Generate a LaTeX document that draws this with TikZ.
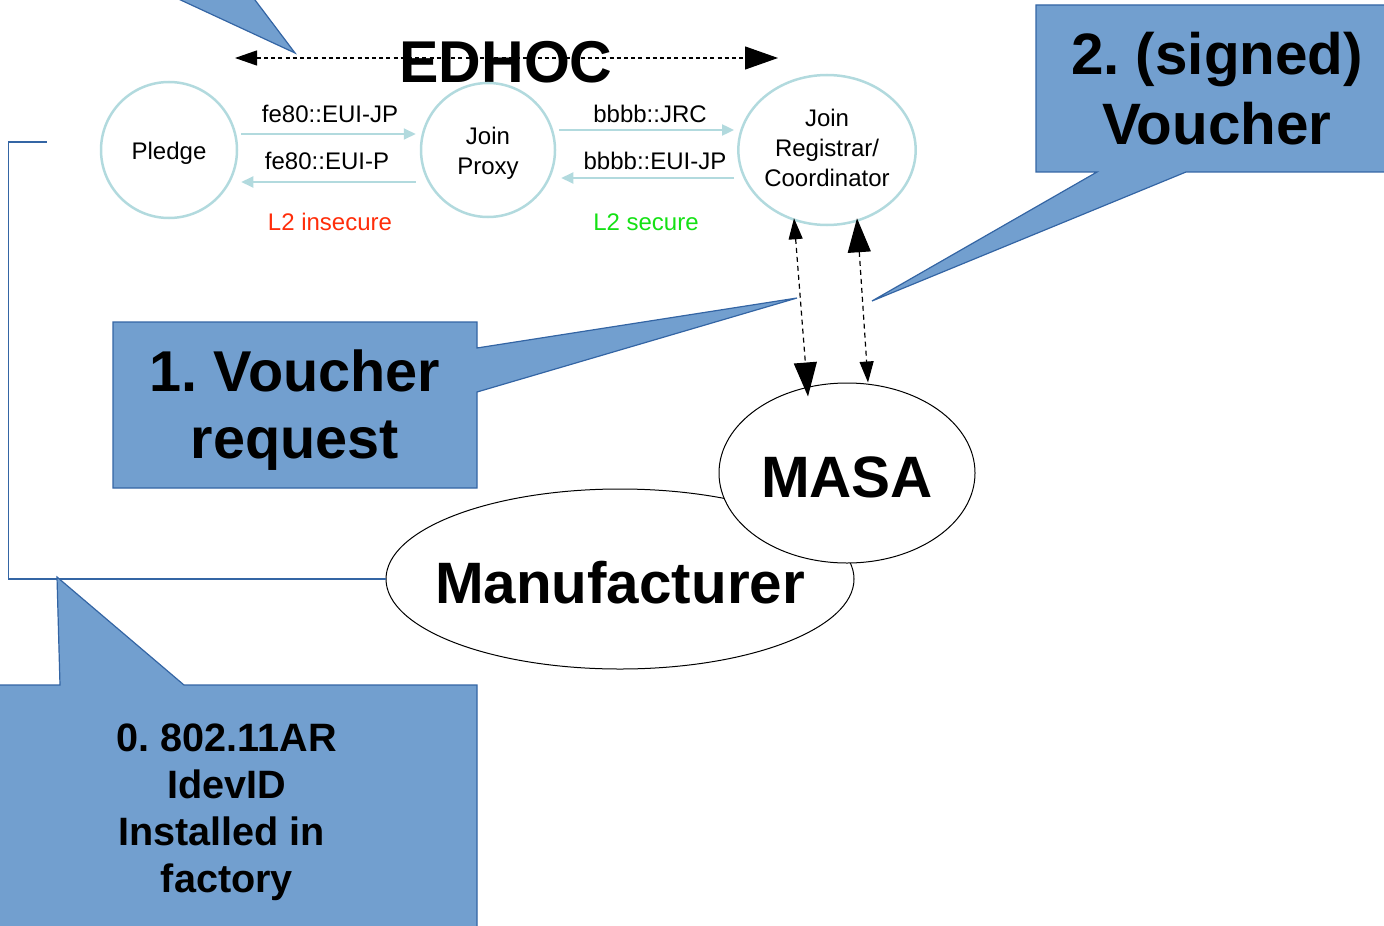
\documentclass[tikz,border=0pt]{standalone}
\usepackage{fontspec}
\setmainfont{Liberation Sans}
\usetikzlibrary{arrows.meta,shapes.geometric}
\frenchspacing

\definecolor{linkteal}{RGB}{178,218,222}
\definecolor{callfill}{RGB}{114,159,207}
\definecolor{calledge}{RGB}{52,101,164}
\definecolor{insecred}{RGB}{255,45,10}
\definecolor{secgreen}{RGB}{20,225,20}

% shift a line of text vertically without changing its box
\newcommand{\nudge}[2]{\raisebox{#1}[\height][\depth]{#2}}

\tikzset{
  peer/.style={circle, draw=linkteal, line width=1.25pt, inner sep=0pt,
    align=center, font=\fontsize{12}{15}\selectfont},
  link/.style={draw=linkteal, line width=1pt, -{Triangle[length=6pt,width=5.5pt]}},
  linklabel/.style={font=\fontsize{12}{15}\selectfont, inner sep=0pt},
  oval/.style={ellipse, draw=black, line width=0.5pt, fill=white, inner sep=0pt},
  callout/.style={fill=callfill, draw=calledge, line width=0.6pt, line join=miter},
  bigtext/.style={font=\fontsize{29.2}{35}\bfseries\selectfont, align=center, inner sep=0pt},
  flow/.style={draw=black, line width=0.6pt, dash pattern=on 2.5pt off 2pt},
  smallhead/.tip={Triangle[length=10.5pt,width=7pt]},
  bighead/.tip={Triangle[length=17pt,width=11.5pt]}
}

\begin{document}
\begin{tikzpicture}[x=0.5pt,y=-0.5pt]
\useasboundingbox (0,0) rectangle (1384,925);

% tail of a callout whose box lies above the page
\coordinate (edhocTip) at (295,53);
\draw[callout] (172,-4) -- (edhocTip) -- (252,-4) -- cycle;

% EDHOC exchange
\coordinate (edhocL) at (235,58);
\coordinate (edhocR) at (778,58);
\draw[draw=black, line width=0.6pt, dash pattern=on 2pt off 1.6pt,
      {Triangle[length=11pt,width=7.5pt]}-{Triangle[length=16.5pt,width=11.5pt]}]
  (edhocL) -- (edhocR);
\node[font=\fontsize{29.5}{35}\bfseries\selectfont, inner sep=0pt] (edhoc) at (506,62) {EDHOC};

% join entities
\node[peer, minimum size=68pt] (pledge) at (169,150) {\nudge{-1.5pt}{Pledge}};
\node[peer, minimum size=67pt] (proxy) at (488,150)
  {\nudge{-1.5pt}{Join}\\\nudge{-1.5pt}{Proxy}};
\node[peer, ellipse, minimum width=88pt, minimum height=75pt] (jrc) at (827,150)
  {\nudge{1pt}{Join}\\\nudge{1pt}{Registrar/}\\\nudge{1pt}{Coordinator}};

% link-local and routed exchanges
\draw[link] ([shift={(3,-16)}]pledge.east) -- ([shift={(-4,-16)}]proxy.west);
\draw[link] ([shift={(-4,32)}]proxy.west) -- ([shift={(3,32)}]pledge.east);
\draw[link] ([shift={(3,-20)}]proxy.east) -- ([shift={(-3,-20)}]jrc.west);
\draw[link] ([shift={(-3,28)}]jrc.west) -- ([shift={(5,28)}]proxy.east);

\node[linklabel] (l1) at (330,114) {fe80::EUI-JP};
\node[linklabel] (l2) at (327,161) {fe80::EUI-P};
\node[linklabel] (l3) at (650,114) {bbbb::JRC};
\node[linklabel] (l4) at (655,161) {bbbb::EUI-JP};
\node[linklabel, text=insecred] (ins) at (330,222) {L2 insecure};
\node[linklabel, text=secgreen] (sec) at (646,222) {L2 secure};

% manufacturer side
\node[oval, minimum width=234pt, minimum height=90pt] (manu) at (620,579) {};
\node[bigtext] (manuT) at (620,583) {Manufacturer};
\node[oval, minimum width=128pt, minimum height=90pt] (masa) at (847,473) {};
\node[bigtext] (masaT) at (847,477) {MASA};

% voucher request / voucher
\draw[flow, smallhead-bighead]
  ([shift={(-33,-8)}]jrc.south) -- ([shift={(-39,14)}]masa.north);
\draw[flow, bighead-smallhead]
  ([shift={(30,-8)}]jrc.south) -- ([shift={(21,0)}]masa.north);

% factory installation path
\coordinate (wireEnd) at (47,142);
\draw[draw=calledge, line width=0.7pt] (manu.west) -- ++(-377,0) |- (wireEnd);

% callouts
\draw[callout] (113,322) -- (477,322) -- (477,348) -- (797,298) -- (477,392)
  -- (477,488) -- (113,488) -- cycle;
\node[bigtext, font=\fontsize{28.8}{33.5}\bfseries\selectfont] (req) at (295,410)
  {1. Voucher\\request};

\draw[callout] (1036,5) -- (1390,5) -- (1390,172) -- (1186,172) -- (872,301)
  -- (1097,172) -- (1036,172) -- cycle;
\node[bigtext] (vch) at (1217,89) {2. (signed)\\Voucher};

\draw[callout] (-5,685) -- (60,685) -- (57,577) -- (184,685) -- (477,685)
  -- (477,935) -- (-5,935) -- cycle;
\node[bigtext, font=\fontsize{19.8}{23.5}\bfseries\selectfont] (idev) at (227,812)
  {0. 802.11AR\\IdevID\\Installed in\kern 5.5pt\\factory};
\end{tikzpicture}
\end{document}
